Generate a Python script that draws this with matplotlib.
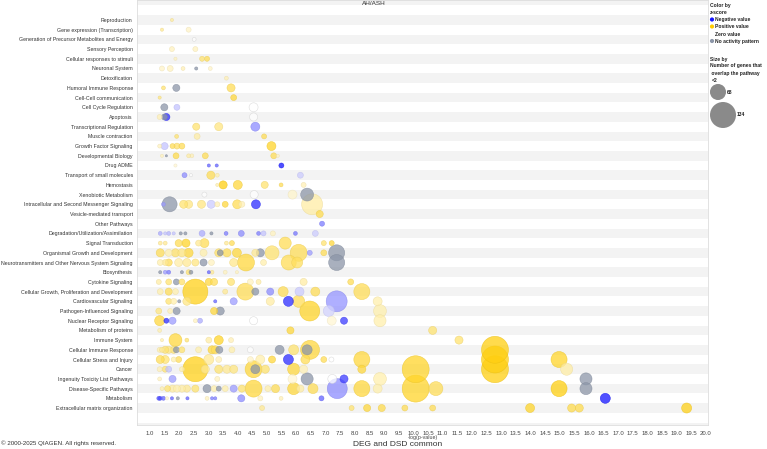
import matplotlib
matplotlib.use("Agg")
import matplotlib.pyplot as plt
import numpy as np

plt.rcParams['font.family'] = ['Liberation Sans', 'DejaVu Sans']

categories = [
    "Reproduction", "Gene expression (Transcription)",
    "Generation of Precursor Metabolites and Energy", "Sensory Perception",
    "Cellular responses to stimuli", "Neuronal System", "Detoxification",
    "Humoral Immune Response", "Cell-Cell communication", "Cell Cycle Regulation",
    "Apoptosis", "Transcriptional Regulation", "Muscle contraction",
    "Growth Factor Signaling", "Developmental Biology", "Drug ADME",
    "Transport of small molecules", "Hemostasis", "Xenobiotic Metabolism",
    "Intracellular and Second Messenger Signaling", "Vesicle-mediated transport",
    "Other Pathways", "Degradation/Utilization/Assimilation", "Signal Transduction",
    "Organismal Growth and Development",
    "Neurotransmitters and Other Nervous System Signaling", "Biosynthesis",
    "Cytokine Signaling", "Cellular Growth, Proliferation and Development",
    "Cardiovascular Signaling", "Pathogen-Influenced Signaling",
    "Nuclear Receptor Signaling", "Metabolism of proteins", "Immune System",
    "Cellular Immune Response", "Cellular Stress and Injury", "Cancer",
    "Ingenuity Toxicity List Pathways", "Disease-Specific Pathways", "Metabolism",
    "Extracellular matrix organization",
]

N = np.nan
# one entry per pathway bubble: category row (1 = top), -log(p), genes, z-score (nan = no activity pattern)
bubble_row = [
    1, 2, 2, 3, 4, 4, 5, 5, 5,
    6, 6, 6, 6, 6, 7, 8, 8, 8, 9, 9,
    10, 10, 10, 11, 11, 11, 11, 12, 12, 12, 13, 13, 13,
    14, 14, 14, 14, 14, 14, 15, 15, 15, 15, 15, 15, 15, 15,
    16, 16, 16, 16, 17, 17, 17, 17, 17, 18, 18, 18, 18, 18, 18,
    19, 19, 19, 19,
    20, 20, 20, 20, 20, 20, 20, 20, 20, 20, 20, 20, 21, 22,
    23, 23, 23, 23, 23, 23, 23, 23, 23, 23, 23, 23, 23, 23, 23,
    24, 24, 24, 24, 24, 24, 24, 24, 24, 24, 24,
    25, 25, 25, 25, 25, 25, 25, 25, 25, 25, 25, 25, 25, 25, 25, 25, 25,
    26, 26, 26, 26, 26, 26, 26, 26, 26, 26, 26, 26, 26, 26,
    27, 27, 27, 27, 27, 27, 27, 27, 27, 27,
    28, 28, 28, 28, 28, 28, 28, 28, 28, 28, 28,
    29, 29, 29, 29, 29, 29, 29, 29, 29, 29, 29, 29,
    30, 30, 30, 30, 30, 30, 30, 30, 30, 30, 30,
    31, 31, 31, 31, 31, 31, 31, 31,
    32, 32, 32, 32, 32, 32, 32, 32, 32,
    33, 33, 33, 34, 34, 34, 34, 34, 34, 34,
    35, 35, 35, 35, 35, 35, 35, 35, 35, 35, 35, 35, 35, 35, 35, 35, 35, 35,
    36, 36, 36, 36, 36, 36, 36, 36, 36, 36, 36, 36, 36, 36, 36, 36,
    37, 37, 37, 37, 37, 37, 37, 37, 37, 37, 37, 37, 37, 37, 37, 37, 37, 37,
    38, 38, 38, 38, 38, 38, 38, 38, 38,
    39, 39, 39, 39, 39, 39, 39, 39, 39, 39, 39, 39, 39, 39, 39, 39, 39, 39, 39,
    39, 39, 39, 39, 39, 39, 39,
    40, 40, 40, 40, 40, 40, 40, 40, 40, 40, 40, 40, 40, 40, 40,
    41, 41, 41, 41, 41, 41, 41, 41, 41, 41,
]
bubble_x = [
    1.75, 1.41, 2.32, 2.51, 1.75, 2.55, 1.87, 2.78, 2.95,
    1.41, 1.69, 2.13, 2.58, 3.06, 3.61, 1.46, 1.90, 3.77, 1.33, 3.86,
    1.49, 1.92, 4.54, 1.33, 1.49, 1.56, 4.54, 2.58, 3.35, 4.60, 1.91, 2.61, 4.90,
    1.33, 1.50, 1.77, 1.92, 2.09, 5.15, 1.41, 1.56, 1.89, 2.32, 2.43, 2.89, 5.23, 5.37,
    1.87, 3.01, 3.28, 5.49, 2.18, 2.40, 3.08, 3.30, 6.14, 3.30, 3.50, 4.00, 4.92, 5.48, 6.25,
    2.86, 4.56, 5.87, 6.37,
    1.46, 1.67, 2.15, 2.32, 2.76, 3.09, 3.30, 3.57, 3.98, 4.14, 4.62, 6.54, 6.80, 6.88,
    1.35, 1.52, 1.64, 1.81, 2.05, 2.21, 2.78, 3.10, 3.60, 4.12, 4.71, 4.88, 5.20, 5.97, 6.65,
    1.35, 1.52, 1.98, 2.23, 2.66, 2.86, 3.61, 3.80, 5.62, 6.94, 7.21,
    1.35, 1.64, 1.87, 2.09, 2.32, 2.83, 3.35, 3.40, 3.63, 3.97, 4.60, 4.77, 5.17, 6.08,
    6.46, 6.94, 7.38,
    1.35, 1.52, 1.64, 1.98, 2.26, 2.55, 2.83, 3.10, 3.86, 4.28, 4.88, 5.74, 6.03, 7.38,
    1.35, 1.52, 1.64, 2.09, 2.32, 2.40, 3.01, 3.12, 3.57, 3.97,
    1.30, 1.64, 1.90, 2.09, 3.01, 3.19, 3.77, 4.43, 4.71, 6.25, 7.86,
    1.35, 1.64, 1.87, 2.55, 3.57, 4.26, 4.60, 5.11, 5.55, 6.11, 6.65, 8.24,
    1.64, 1.81, 2.00, 2.26, 3.23, 3.86, 5.11, 5.73, 6.08, 7.38, 8.78,
    1.30, 1.69, 1.91, 3.19, 3.40, 6.46, 7.11, 8.86,
    1.33, 1.56, 1.77, 2.55, 2.71, 4.54, 7.21, 7.63, 8.86,
    1.33, 5.80, 10.66, 1.41, 1.87, 2.26, 3.01, 3.35, 3.77, 11.56,
    1.33, 1.41, 1.52, 1.64, 1.81, 1.90, 2.09, 2.66, 3.12, 3.23, 3.37, 3.80, 4.43, 5.43,
    5.91, 6.47, 6.37, 12.79,
    1.35, 1.52, 1.81, 1.98, 3.01, 3.35, 4.43, 4.77, 5.17, 5.73, 6.31, 6.94, 7.20, 8.24,
    12.79, 14.98,
    1.33, 1.52, 1.64, 2.09, 2.55, 2.89, 3.35, 3.63, 3.86, 4.54, 4.60, 4.94, 5.91, 6.25,
    10.08, 12.79, 15.24, 8.24,
    1.33, 1.77, 3.30, 5.87, 6.37, 7.23, 7.63, 8.86, 15.90,
    1.41, 1.60, 1.77, 1.92, 2.09, 2.26, 2.55, 2.95, 3.19, 3.35, 3.57, 3.86, 4.14, 4.54,
    5.03, 5.29, 5.91, 6.14, 6.57, 7.40, 8.24, 8.78, 10.08, 10.77, 14.98, 15.90,
    1.30, 1.35, 1.46, 1.58, 1.75, 1.95, 2.28, 2.95, 3.12, 3.23, 4.12, 4.77, 5.48, 6.86, 16.56,
    4.83, 7.89, 8.42, 8.92, 9.71, 10.66, 13.99, 15.41, 15.67, 19.34,
]
bubble_genes = [
    2, 2, 5, 3, 5, 5, 2, 5, 5,
    5, 7, 3, 2, 3, 3, 3, 10, 13, 2, 7,
    10, 7, 16, 5, 7, 10, 13, 10, 13, 16, 3, 7, 5,
    3, 10, 5, 7, 7, 16, 2, 1, 7, 3, 3, 7, 7, 2,
    2, 2, 2, 5, 5, 2, 13, 3, 7, 2, 13, 16, 10, 3, 5,
    5, 13, 16, 33,
    3, 45, 13, 13, 13, 13, 5, 7, 16, 7, 16, 87, 10, 5,
    3, 2, 3, 2, 2, 2, 7, 2, 3, 7, 3, 5, 5, 3, 7,
    3, 3, 10, 13, 7, 16, 3, 5, 29, 5, 5,
    13, 10, 13, 13, 16, 10, 13, 7, 13, 16, 10, 13, 39, 57, 5, 7, 51,
    7, 7, 10, 13, 13, 10, 10, 7, 13, 57, 7, 45, 24, 51,
    2, 3, 3, 2, 5, 3, 2, 3, 3, 2,
    5, 7, 7, 7, 10, 10, 10, 7, 5, 10, 7,
    7, 10, 7, 124, 5, 57, 10, 10, 20, 16, 16, 51,
    7, 7, 2, 13, 2, 10, 13, 20, 29, 87, 16,
    7, 5, 10, 10, 13, 79, 24, 33,
    20, 5, 10, 3, 5, 13, 16, 10, 29,
    3, 10, 13, 2, 33, 3, 7, 16, 5, 13,
    5, 5, 10, 10, 10, 7, 7, 7, 13, 13, 10, 7, 7, 16, 20, 71, 20, 144,
    13, 13, 5, 7, 20, 7, 7, 16, 10, 20, 16, 7, 5, 51, 144, 51,
    5, 7, 7, 5, 124, 13, 13, 13, 13, 57, 16, 13, 29, 13, 144, 144, 29, 13,
    3, 10, 5, 16, 29, 16, 13, 33, 29,
    3, 7, 10, 10, 10, 10, 10, 13, 7, 5, 7, 10, 10, 57, 7, 13, 29, 10, 20, 79, 51,
    16, 144, 39, 51, 29,
    3, 3, 3, 2, 2, 2, 2, 3, 2, 2, 10, 5, 3, 5, 20,
    5, 5, 10, 10, 7, 7, 16, 13, 13, 20,
]
bubble_z = [
    0.7, 0.8, 0.2, 0, 0.3, 0.3, 0.3, 1.2, 1.5,
    0.2, 0.3, 0.4, N, 0.2, 0.4, 1.2, N, 1.5, 1.0, 1.8,
    N, -0.3, 0, 0.4, N, -2.2, 0, 1.2, 1.0, -1.0, 1.2, 0.6, 1.5,
    0.3, -0.3, 1.5, 1.3, 1.5, 2.0, 0.3, N, 1.6, 0.6, 0.4, 1.5, 1.5, 0.3,
    0.05, -1.5, -1.5, -2.5, -1.0, 0, 1.5, 0.5, -0.2, 0.5, 2.3, 1.8, 1.2, 1.5, 0.4,
    0, 0, 0.15, N,
    -0.8, N, 1.2, 1.0, 1.0, -0.2, 0.4, 1.8, 1.5, 0.4, -2.2, 0.6, 1.6, -1.2,
    -0.6, -0.3, -0.5, -0.3, N, N, -0.6, N, -1.2, -1.0, -1.2, -0.3, 0.3, -1.3, -0.2,
    0.8, 0.8, 1.5, 2.0, 0.8, 1.5, 0.8, 1.5, 1.5, 1.2, 1.8,
    1.5, 0.5, 1.3, 1.0, 1.8, 0.5, 1.3, N, 1.5, 1.8, 0.8, N, 1.2, 1.5, -0.8, 1.5, N,
    0.5, 0.8, 1.5, 0.6, 0.8, 1.0, N, 0.3, 0.9, 1.8, 0.5, 1.5, 1.4, N,
    N, -0.8, -1.2, N, 1.2, N, -1.5, 0.8, 0.3, 0.3,
    0.6, 1.2, N, 1.3, 1.8, 1.5, 1.2, 0.3, 0.6, 0.6, 1.5,
    0.5, 1.5, 0.5, 2.2, 0.8, 1.5, N, -1.0, 1.5, -0.2, 1.5, 1.5,
    1.2, 0.5, N, 1.0, -1.5, -0.8, 0.6, -2.2, 1.5, -0.9, 0.5,
    1.0, 0.4, N, 1.8, N, 2.0, -0.1, 0.5,
    1.8, -2.2, -0.8, 0.3, -0.6, 0, 0.05, -2.0, 0.5,
    0.5, 1.8, 1.2, 0.5, 1.8, 1.2, 0.6, 2.0, 0.4, 1.2,
    0.5, 0.8, 1.2, 1.0, 1.2, N, 1.2, 0.5, 1.8, 1.5, N, 0.5, 0, N, 1.2, 1.8, N, 2.3,
    1.5, 1.2, 0.5, 1.5, 0.8, 0.4, 0.2, 0.5, 1.8, -2.2, 1.5, 1.5, 0, 1.8, 2.3, 2.0,
    0.4, 1.2, -0.3, 0.5, 2.2, 0.8, 1.2, 0.8, 1.0, 1.8, N, 1.2, 1.8, 0.4, 2.0, 2.3, 0.6, 1.8,
    0.3, -0.8, 0.3, 0.05, N, 0, -2.0, 0.5, N,
    0.5, 1.2, 0.6, 0.5, 0.6, 0.8, 1.2, N, 0.5, N, 0.5, -0.8, 1.2, 1.8, 0.5, 1.5, 1.8,
    0.6, 1.5, -1.0, 1.8, 0.5, 2.0, 1.5, 2.3, N,
    -1.8, -1.8, -1.5, 0.2, -1.5, N, -1.5, 0.3, -1.2, -1.2, -1.0, 0.3, 0.4, -1.5, -3.0,
    0.8, 1.2, 1.8, 1.6, 1.5, 1.5, 2.0, 1.6, 1.6, 2.2,
]

x_ticks = np.arange(1.0, 20.01, 0.5)
legend_genes = [68, 134]

YELLOW = np.array([1.0, 0.80, 0.0])
BLUE = np.array([0.08, 0.08, 1.0])
GRAY = np.array([0.55, 0.59, 0.66])


def bubble_color(z):
    if np.isnan(z):
        return GRAY
    if z == 0:
        return np.array([1.0, 1.0, 1.0])
    t = 0.15 + 0.85 * min(abs(z) / 2.5, 1.0)
    base = YELLOW if z > 0 else BLUE
    return (1 - t) * np.ones(3) + t * base


def size_of(genes):
    # marker area in pt^2, 134 genes ~ 26 px across
    return 2.615 * np.asarray(genes, dtype=float)


W, H = 767, 449
fig = plt.figure(figsize=(W / 100, H / 100), dpi=100)
ax = fig.add_axes([137 / W, 1 - 425 / H, 571 / W, 425 / H])

# row stripes
for r in range(-1, 44):
    if r % 2 == 1:
        ax.axhspan(r - 0.5, r + 0.5, color="#f3f3f3", lw=0, zorder=0)

rows = np.array(bubble_row)
xs = np.array(bubble_x)
genes = np.array(bubble_genes)
zs = np.array(bubble_z, dtype=float)
order = np.argsort(-genes)
cols = np.array([bubble_color(z) for z in zs])
edges = []
for z, c in zip(zs, cols):
    if not np.isnan(z) and z == 0:
        edges.append((0.82, 0.82, 0.82))
    else:
        edges.append(tuple(c * 0.92))
edges = np.array(edges)

ax.scatter(xs[order], rows[order], s=size_of(genes[order]), c=cols[order],
           edgecolors=edges[order], linewidths=0.4, alpha=0.75, zorder=3)

ax.set_xlim(0.556, 20.07)
ax.set_ylim(42.75, -1.06)
ax.set_xticks(x_ticks)
ax.set_xticklabels([f"{v:.1f}" for v in x_ticks], fontsize=4.3, color="#444444")
ax.tick_params(axis="x", length=0, pad=4)
ax.set_yticks(range(1, len(categories) + 1))
ax.set_yticklabels(categories, fontsize=3.8, color="#333333")
ax.tick_params(axis="y", length=0, pad=3)
for s in ax.spines.values():
    s.set_color("#dddddd")
    s.set_linewidth(0.6)

fig.text(374 / W, 1 - 3.5 / H, "AH/ASH", fontsize=4.6, ha="center", va="center", color="#333333")
fig.text(423 / W, 1 - 437 / H, "-log(p-value)", fontsize=3.8, ha="center", va="center", color="#444444")
fig.text(398 / W, 1 - 444.5 / H, "DEG and DSD common", fontsize=6, ha="center", va="center", color="#333333")
fig.text(1 / W, 1 - 443 / H, "\u00a9 2000-2025 QIAGEN. All rights reserved.", fontsize=4.4,
         ha="left", va="center", color="#333333")

# legend
lx = 710
lab = dict(fontsize=3.6, ha="left", va="center", color="#222222", fontweight="bold")
fig.text(lx / W, 1 - 5 / H, "Color by", **lab)
fig.text(lx / W, 1 - 12 / H, "z-score", **lab)
leg_items = [("Negative value", BLUE, 19.5), ("Positive value", YELLOW, 26.5),
             ("Zero value", np.ones(3), 34), ("No activity pattern", GRAY, 41)]
for name, c, yy in leg_items:
    fig.text((lx + 5) / W, 1 - yy / H, name, **lab)
    ax.scatter([(lx + 2) / W], [1 - yy / H], s=9, c=[c], transform=fig.transFigure,
               clip_on=False, edgecolors="none", zorder=5)
fig.text(lx / W, 1 - 59 / H, "Size by", **lab)
fig.text(lx / W, 1 - 66 / H, "Number of genes that", **lab)
fig.text(lx / W, 1 - 73.5 / H, " overlap the pathway", **lab)
fig.text((lx + 2) / W, 1 - 81 / H, "<2", **lab)
for g, cx, cy, tx in [(legend_genes[0], 718, 92, 727), (legend_genes[1], 723, 115, 737)]:
    ax.scatter([cx / W], [1 - cy / H], s=size_of(g) * (0.75 if g == 68 else 1.0), c="#8a8a8a",
               transform=fig.transFigure, clip_on=False, edgecolors="none", zorder=5)
    fig.text(tx / W, 1 - cy / H, str(g), **lab)

fig.savefig("out.png", dpi=100)
